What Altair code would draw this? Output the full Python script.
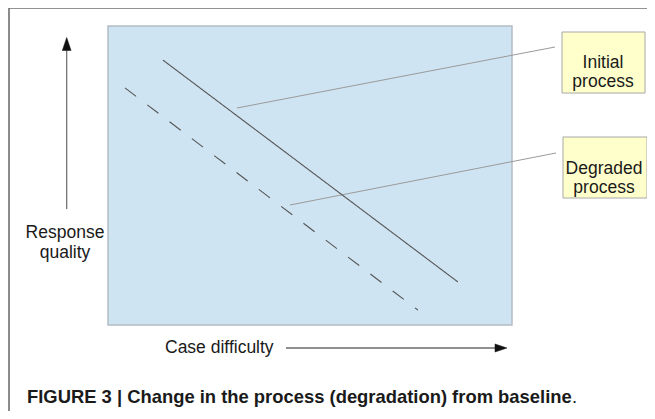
import altair as alt
import pandas as pd

# ---- data (diagram units: case difficulty 0-10 left->right, response quality 0-10 bottom->top)
process_names = ["Initial process", "Degraded process"]
difficulty_initial = [1.36, 8.66]
quality_initial = [8.86, 1.44]
difficulty_degraded = [0.42, 7.67]
quality_degraded = [7.93, 0.50]
plot_extent = [0, 10]

x_title = "Case difficulty"
y_title = "Response\nquality"
caption_bold = "FIGURE 3 | Change in the process (degradation) from baseline"
caption_end = "."
callout_initial = "Initial\nprocess"
callout_degraded = "Degraded\nprocess"

FONT = "Liberation Sans"

lines_df = pd.DataFrame({
    "process": [process_names[0]] * 2 + [process_names[1]] * 2,
    "difficulty": difficulty_initial + difficulty_degraded,
    "quality": quality_initial + quality_degraded,
})
bg_df = pd.DataFrame({"x0": [plot_extent[0]], "x1": [plot_extent[1]],
                      "y0": [plot_extent[0]], "y1": [plot_extent[1]]})
one = pd.DataFrame({"a": [0]})

xs = alt.Scale(domain=plot_extent, range=[100, 504], nice=False, zero=False)
ys = alt.Scale(domain=plot_extent, range=[317, 18], nice=False, zero=False)

bg = alt.Chart(bg_df).mark_rect(fill="#cfe4f2", stroke="#b4bcc4", strokeWidth=1.5).encode(
    x=alt.X("x0:Q", scale=xs, axis=None), x2="x1:Q",
    y=alt.Y("y0:Q", scale=ys, axis=None), y2="y1:Q",
)

lines = alt.Chart(lines_df).mark_line(color="#555555", strokeWidth=1.1).encode(
    x=alt.X("difficulty:Q", scale=xs, axis=None),
    y=alt.Y("quality:Q", scale=ys, axis=None),
    detail="process:N",
    strokeDash=alt.StrokeDash("process:N", legend=None,
                              scale=alt.Scale(domain=process_names, range=[[1, 0], [14, 14]])),
)


def rule(x, y, x2, y2, color, w=1.0):
    return alt.Chart(one).mark_rule(color=color, strokeWidth=w).encode(
        x=alt.value(x), y=alt.value(y), x2=alt.value(x2), y2=alt.value(y2))


def box(x, y, x2, y2):
    return alt.Chart(one).mark_rect(fill="#ffffcc", stroke="#a8a8a8", strokeWidth=1).encode(
        x=alt.value(x), y=alt.value(y), x2=alt.value(x2), y2=alt.value(y2))


def text(t, x, y, size=17.5, align="center", weight="normal", lh=19):
    return alt.Chart(one).mark_text(font=FONT, fontSize=size, align=align, baseline="middle",
                                    fontWeight=weight, color="#1a1a1a", lineBreak="\n",
                                    lineHeight=lh).encode(
        x=alt.value(x), y=alt.value(y), text=alt.value(t))


def head(x, y, path, size):
    return alt.Chart(one).mark_point(shape=path, size=size, filled=True, fill="#111111",
                                     stroke="#111111", strokeWidth=0.5, opacity=1).encode(
        x=alt.value(x), y=alt.value(y))


layers = [
    # outer frame (left and top edges)
    rule(1, 0, 1, 403, "#6e6e6e", 1.6),
    rule(1, 0, 647, 0, "#6e6e6e", 1.6),
    bg,
    # leader lines
    rule(229, 100, 547, 39, "#9a9a9a"),
    rule(282, 197, 548, 145, "#9a9a9a"),
    lines,
    # callouts
    box(554, 24, 637, 85),
    box(555, 129, 639, 190),
    text(callout_initial, 595, 54.5),
    text(callout_degraded, 596, 160.5),
    # y arrow
    rule(58.7, 42, 58.7, 201, "#6a6a6a", 1.2),
    head(58.7, 36, "M0,-1L0.67,1L-0.67,1Z", 169),
    text(y_title, 57, 225, lh=20),
    # x arrow
    text(x_title, 157, 339.5, align="left"),
    rule(278, 340, 490, 340, "#222222", 1.2),
    head(493, 340, "M1,0L-1,-0.67L-1,0.67Z", 144),
    # caption
    text(caption_bold, 19, 389, size=18.4, align="left", weight="bold"),
    text(caption_end, 564, 389, size=18.4, align="left"),
]

chart = alt.layer(*layers).properties(
    width=639, height=403, padding=0, autosize=alt.AutoSizeParams(type="none"),
    background="white",
).configure_view(stroke=None)

chart.save("out.html", embed_options={"renderer": "svg", "actions": False})
